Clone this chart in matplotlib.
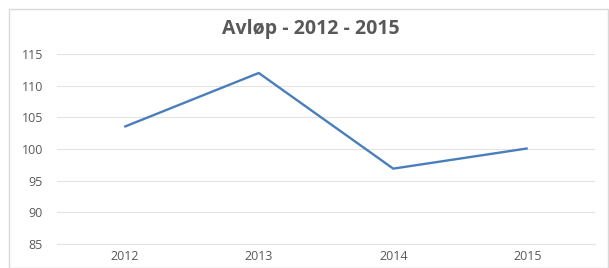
import matplotlib
matplotlib.use("Agg")
import matplotlib.pyplot as plt
from matplotlib.patches import Rectangle

years = ["2012", "2013", "2014", "2015"]
values = [103.5, 112.0, 96.9, 100.1]
yticks = [85, 90, 95, 100, 105, 110, 115]

plt.rcParams['font.family'] = ['Open Sans', 'DejaVu Sans']

W, H = 609, 268
fig = plt.figure(figsize=(W / 100, H / 100), dpi=100)
fig.patch.set_facecolor("white")

# outer chart border
fig.add_artist(Rectangle((9 / W, 0.5 / H), (608 - 9) / W, (268 - 8.5 - 0.5) / H,
                         transform=fig.transFigure, fill=False,
                         edgecolor="#d9d9d9", linewidth=1.0))

left, right = 57 / W, 595 / W
bottom, top = 1 - 244 / H, 1 - 54 / H
ax = fig.add_axes([left, bottom, right - left, top - bottom])

x = range(len(years))
ax.plot(x, values, color="#4a7ebb", linewidth=1.7, solid_capstyle="butt")

ax.set_xlim(-0.5, len(years) - 0.5)
ax.set_ylim(85, 115)
ax.set_yticks(yticks)
ax.set_xticks(list(x))
ax.set_xticklabels(years)

ax.grid(axis="y", color="#e3e3e3", linewidth=0.8)
ax.set_axisbelow(True)
for s in ["top", "right", "left"]:
    ax.spines[s].set_visible(False)
ax.spines["bottom"].set_color("#e3e3e3")
ax.spines["bottom"].set_linewidth(0.8)
ax.tick_params(axis="both", length=0, colors="#595959", labelsize=9)
ax.tick_params(axis="y", pad=10)
ax.tick_params(axis="x", pad=4)

fig.text(311 / W, 1 - 29 / H, "Avløp - 2012 - 2015", ha="center", va="center",
         fontsize=14, fontweight="bold", color="#595959")

fig.savefig("out.png", dpi=100)
